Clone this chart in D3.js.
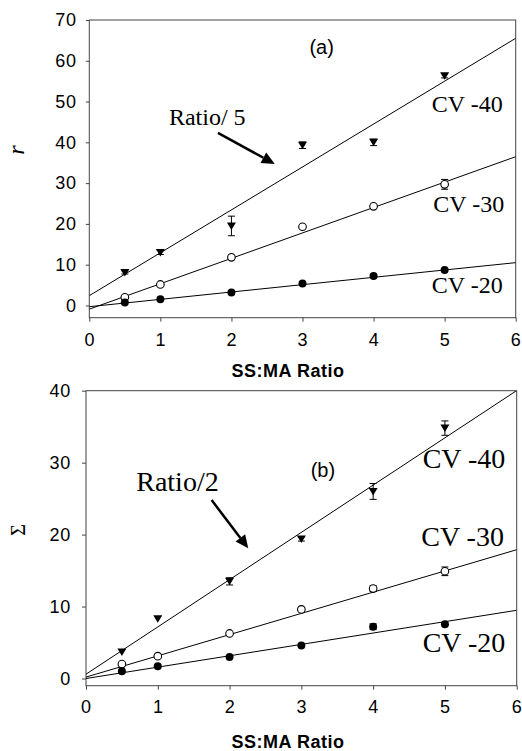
<!DOCTYPE html>
<html><head><meta charset="utf-8">
<script src="https://cdn.jsdelivr.net/npm/d3@7"></script>
<style>body{margin:0;background:#fff}svg{display:block}</style>
</head><body>
<svg id="c" width="522" height="751"></svg>
<script>
// ---- data ----
const ratios = [0.5, 1, 2, 3, 4, 5];
const xTicks = [0, 1, 2, 3, 4, 5, 6];
const seriesNames = ["CV -40", "CV -30", "CV -20"];
const markerTypes = ["triangle", "open", "filled"];

// panel (a): r
const aCV40 = [8.1, 13.0, 19.5, 39.3, 40.0, 56.3];
const aCV30 = [2.0, 5.15, 11.8, 19.3, 24.3, 29.7];
const aCV20 = [0.7, 1.55, 3.2, 5.4, 7.2, 8.7];
const aErr40 = [0.4, 0.5, 2.4, 0.8, 0.8, 0.5];
const aErr30 = [0.3, 0.3, 0.3, 0.3, 0.3, 1.2];
const aErr20 = [0.2, 0.2, 0.2, 0.2, 0.2, 0.2];
const aIntercepts = [2.4, -0.9, -0.3];
const aSlopes = [10.52, 6.23, 1.8];
const aYTicks = [0, 10, 20, 30, 40, 50, 60, 70];

// panel (b): Σ
const bCV40 = [3.7, 8.3, 13.5, 19.4, 26.0, 34.8];
const bCV30 = [2.0, 3.1, 6.26, 9.6, 12.5, 14.9];
const bCV20 = [1.0, 1.7, 3.0, 4.6, 7.2, 7.55];
const bErr40 = [0.2, 0.2, 0.5, 0.3, 1.1, 1.0];
const bErr30 = [0.1, 0.1, 0.1, 0.1, 0.4, 0.6];
const bErr20 = [0.1, 0.1, 0.1, 0.1, 0.4, 0.1];
const bIntercepts = [0.6, 0.2, 0.0];
const bSlopes = [6.57, 2.95, 1.58];
const bYTicks = [0, 10, 20, 30, 40];

const xTitle = "SS:MA Ratio";

const svg = d3.select("#c");
const SANS = "'Liberation Sans', Arial, sans-serif";
const SERIF = "'Liberation Serif', 'Times New Roman', serif";

function panel(cfg) {
  const x = d3.scaleLinear().domain([0, 6]).range(cfg.xr);
  const y = d3.scaleLinear().domain(cfg.yd).range(cfg.yr);
  const g = svg.append("g");

  // frame
  g.append("rect").attr("x", cfg.xr[0]).attr("y", cfg.yr[1])
    .attr("width", cfg.xr[1] - cfg.xr[0]).attr("height", cfg.yr[0] - cfg.yr[1])
    .attr("fill", "none").attr("stroke", "#444").attr("stroke-width", 1);

  const ax = g.append("g").attr("transform", `translate(0,${cfg.yr[0]})`)
    .call(d3.axisBottom(x).tickValues(xTicks).tickFormat(d3.format("d")).tickSize(4).tickPadding(cfg.xpad));
  const ay = g.append("g").attr("transform", `translate(${cfg.xr[0]},0)`)
    .call(d3.axisLeft(y).tickValues(cfg.yTicks).tickFormat(d3.format("d")).tickSize(cfg.ytick).tickPadding(cfg.ypad));
  [ax, ay].forEach(a => {
    a.select(".domain").remove();
    a.selectAll("line").attr("stroke", "#444");
    a.selectAll("text").attr("font-family", SANS).attr("font-size", 18)
      .attr("letter-spacing", 0.8).attr("fill", "#000");
  });

  // axis title
  g.append("text").attr("x", 288).attr("y", cfg.titleY).attr("text-anchor", "middle")
    .attr("font-family", SANS).attr("font-weight", "bold").attr("font-size", 18)
    .attr("letter-spacing", 0.5).text(xTitle);

  // y label
  g.append("text").attr("transform", `translate(${cfg.ylab[0]},${cfg.ylab[1]}) rotate(-90)`)
    .attr("text-anchor", "middle").attr("font-family", SERIF).attr("font-size", cfg.ylabSize)
    .attr("font-style", cfg.ylabStyle).text(cfg.ylabText);

  const clip = "clip" + cfg.id;
  svg.append("clipPath").attr("id", clip).append("rect")
    .attr("x", cfg.xr[0]).attr("y", cfg.yr[1]).attr("width", cfg.xr[1] - cfg.xr[0]).attr("height", cfg.yr[0] - cfg.yr[1]);

  // regression lines
  cfg.intercepts.forEach((b0, i) => {
    const b1 = cfg.slopes[i];
    g.append("line").attr("clip-path", `url(#${clip})`)
      .attr("x1", x(0)).attr("y1", y(b0)).attr("x2", x(6)).attr("y2", y(b0 + 6 * b1))
      .attr("stroke", "#000").attr("stroke-width", 1);
  });

  // points + error bars
  cfg.series.forEach((vals, i) => {
    const errs = cfg.errs[i];
    const type = markerTypes[i];
    vals.forEach((v, j) => {
      const px = x(ratios[j]);
      const e = errs[j];
      if (e > 0.25) {
        const yt = y(v + e), yb = y(v - e);
        g.append("line").attr("x1", px).attr("x2", px).attr("y1", yt).attr("y2", yb).attr("stroke", "#000");
        g.append("line").attr("x1", px - 3.5).attr("x2", px + 3.5).attr("y1", yt).attr("y2", yt).attr("stroke", "#000");
        g.append("line").attr("x1", px - 3.5).attr("x2", px + 3.5).attr("y1", yb).attr("y2", yb).attr("stroke", "#000");
      }
      const py = y(v);
      if (type === "triangle") {
        g.append("path").attr("d", `M${px - 4.5},${py - 3.5}L${px + 4.5},${py - 3.5}L${px},${py + 4}Z`).attr("fill", "#000");
      } else if (type === "open") {
        g.append("circle").attr("cx", px).attr("cy", py).attr("r", 3.8).attr("fill", "#fff").attr("stroke", "#000").attr("stroke-width", 1.1);
      } else {
        g.append("circle").attr("cx", px).attr("cy", py).attr("r", 4).attr("fill", "#000");
      }
    });
  });

  // annotations
  g.append("text").attr("x", x(cfg.tag[0])).attr("y", y(cfg.tag[1])).attr("text-anchor", "middle")
    .attr("font-family", SANS).attr("font-size", 20).text(cfg.tagText);
  g.append("text").attr("x", x(cfg.ratioLab[0])).attr("y", y(cfg.ratioLab[1]))
    .attr("font-family", SERIF).attr("font-size", cfg.labSize).text(cfg.ratioText);
  seriesNames.forEach((s, i) => {
    g.append("text").attr("x", x(cfg.cvLab[i][0])).attr("y", y(cfg.cvLab[i][1]))
      .attr("font-family", SERIF).attr("font-size", cfg.labSize).text(s);
  });

  // arrow
  const x1 = x(cfg.arrow[0]), y1 = y(cfg.arrow[1]), x2 = x(cfg.arrow[2]), y2 = y(cfg.arrow[3]);
  const ang = Math.atan2(y2 - y1, x2 - x1);
  const L = 13, W = 6;
  const bx = x2 - L * Math.cos(ang), by = y2 - L * Math.sin(ang);
  g.append("line").attr("x1", x1).attr("y1", y1).attr("x2", bx).attr("y2", by)
    .attr("stroke", "#000").attr("stroke-width", 2.5);
  g.append("path").attr("d",
    `M${x2},${y2}L${bx + W * Math.sin(ang)},${by - W * Math.cos(ang)}L${bx - W * Math.sin(ang)},${by + W * Math.cos(ang)}Z`)
    .attr("fill", "#000");
}

panel({
  id: "a", xr: [89.3, 515.7], yd: [-3, 70], yr: [317.7, 20], yTicks: aYTicks,
  xpad: 12, ytick: 3.5, ypad: 9, titleY: 377,
  ylab: [24, 150], ylabSize: 24, ylabStyle: "italic", ylabText: "r",
  intercepts: aIntercepts, slopes: aSlopes,
  series: [aCV40, aCV30, aCV20], errs: [aErr40, aErr30, aErr20],
  tag: [3.27, 61.6], tagText: "(a)",
  ratioLab: [1.12, 44.2], ratioText: "Ratio/ 5", labSize: 24,
  cvLab: [[4.82, 47.5], [4.84, 23.0], [4.82, 2.94]],
  arrow: [1.81, 42.3, 2.61, 34.7]
});

panel({
  id: "b", xr: [86, 516.7], yd: [-1, 40], yr: [685.7, 390.7], yTicks: bYTicks,
  xpad: 11, ytick: 4, ypad: 11, titleY: 748,
  ylab: [25, 530], ylabSize: 20, ylabStyle: "normal", ylabText: "Σ",
  intercepts: bIntercepts, slopes: bSlopes,
  series: [bCV40, bCV30, bCV20], errs: [bErr40, bErr30, bErr20],
  tag: [3.30, 28.0], tagText: "(b)",
  ratioLab: [0.70, 26.05], ratioText: "Ratio/2", labSize: 28,
  cvLab: [[4.69, 29.25], [4.67, 18.4], [4.69, 3.7]],
  arrow: [1.75, 24.8, 2.26, 18.1]
});
</script>
</body></html>
